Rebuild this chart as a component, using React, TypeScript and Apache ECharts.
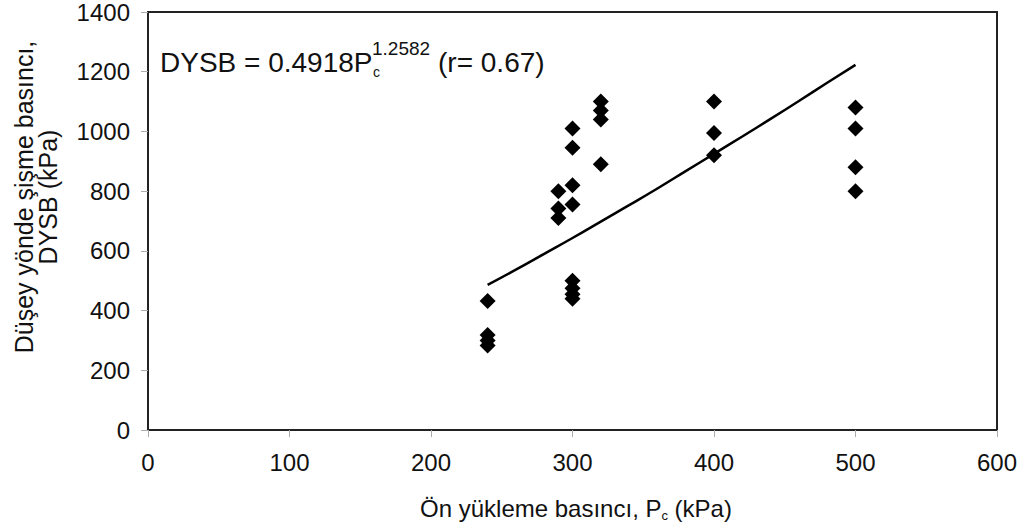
import React, { useEffect, useRef } from "react";
import * as echarts from "echarts";

const pointPc = [240, 240, 240, 240, 290, 290, 290, 300, 300, 300, 300, 300, 300, 300, 300, 320, 320, 320, 320, 400, 400, 400, 500, 500, 500, 500];
const pointDysb = [432, 318, 300, 283, 800, 742, 710, 1010, 945, 820, 755, 500, 475, 455, 440, 1100, 1070, 1040, 890, 1100, 995, 920, 1080, 1010, 880, 800];

const fitPc = [240, 260, 280, 300, 320, 340, 360, 380, 400, 420, 440, 460, 480, 500];
const fitDysb = [486, 537, 590, 643, 698, 753, 809, 867, 925, 983, 1042, 1102, 1163, 1223];

const xTicks = [0, 100, 200, 300, 400, 500, 600];
const yTicks = [0, 200, 400, 600, 800, 1000, 1200, 1400];

const FONT = "'Liberation Sans', Arial, sans-serif";

export default function App() {
  const ref = useRef<HTMLDivElement>(null);
  useEffect(() => {
    if (!ref.current) return;
    document.body.style.margin = "0";
    const chart = echarts.init(ref.current, null, { renderer: "svg" });
    chart.setOption({
      animation: false,
      backgroundColor: "#fff",
      grid: {
        left: 148,
        top: 11,
        width: 849,
        height: 419,
        show: true,
        borderColor: "#222",
        borderWidth: 2,
        backgroundColor: "transparent",
      },
      xAxis: {
        type: "value",
        min: xTicks[0],
        max: xTicks[xTicks.length - 1],
        interval: 100,
        splitLine: { show: false },
        axisLine: { show: true, lineStyle: { color: "#222", width: 2 } },
        axisTick: { show: true, length: 7, lineStyle: { color: "#aaa", width: 1 } },
        axisLabel: { margin: 20, fontSize: 24, color: "#111", fontFamily: FONT, formatter: (v: number) => String(v) },
      },
      yAxis: {
        type: "value",
        min: yTicks[0],
        max: yTicks[yTicks.length - 1],
        interval: 200,
        splitLine: { show: false },
        axisLine: { show: true, lineStyle: { color: "#222", width: 2 } },
        axisTick: { show: true, length: 7, lineStyle: { color: "#aaa", width: 1 } },
        axisLabel: { margin: 18, fontSize: 24, color: "#111", fontFamily: FONT, formatter: (v: number) => String(v) },
      },
      series: [
        {
          type: "scatter",
          data: pointPc.map((x, i) => [x, pointDysb[i]]),
          symbol: "diamond",
          symbolSize: 16,
          itemStyle: { color: "#000", opacity: 1 },
          z: 3,
        },
        {
          type: "line",
          data: fitPc.map((x, i) => [x, fitDysb[i]]),
          showSymbol: false,
          smooth: true,
          lineStyle: { color: "#000", width: 2.5 },
          z: 2,
        },
      ],
      graphic: [
        {
          type: "text",
          x: 160,
          y: 62,
          style: { text: "DYSB = 0.4918P", font: `28px ${FONT}`, fill: "#111", textAlign: "left", textVerticalAlign: "middle" },
        },
        {
          type: "text",
          x: 372,
          y: 48,
          style: { text: "1.2582", font: `19px ${FONT}`, fill: "#111", textAlign: "left", textVerticalAlign: "middle" },
        },
        {
          type: "text",
          x: 373,
          y: 72,
          style: { text: "c", font: `14px ${FONT}`, fill: "#111", textAlign: "left", textVerticalAlign: "middle" },
        },
        {
          type: "text",
          x: 438,
          y: 62,
          style: { text: "(r= 0.67)", font: `28px ${FONT}`, fill: "#111", textAlign: "left", textVerticalAlign: "middle" },
        },
        {
          type: "text",
          x: 24,
          y: 197,
          rotation: Math.PI / 2,
          style: {
            text: "Düşey yönde şişme basıncı,",
            font: `25px ${FONT}`,
            fill: "#111",
            textAlign: "center",
            textVerticalAlign: "middle",
          },
        },
        {
          type: "text",
          x: 48,
          y: 197,
          rotation: Math.PI / 2,
          style: {
            text: "DYSB (kPa)",
            font: `25px ${FONT}`,
            fill: "#111",
            textAlign: "center",
            textVerticalAlign: "middle",
          },
        },
        {
          type: "text",
          x: 576,
          y: 508,
          style: {
            text: "{m|Ön yükleme basıncı, P}{s|c}{m| (kPa)}",
            textAlign: "center",
            textVerticalAlign: "middle",
            rich: {
              m: { fontSize: 24, fontFamily: FONT, fill: "#111", color: "#111", lineHeight: 28 },
              s: { fontSize: 13, fontFamily: FONT, fill: "#111", color: "#111", verticalAlign: "bottom", lineHeight: 22 },
            },
          },
        },
      ],
    });
    return () => chart.dispose();
  }, []);
  return <div ref={ref} style={{ width: 1026, height: 532 }} />;
}
